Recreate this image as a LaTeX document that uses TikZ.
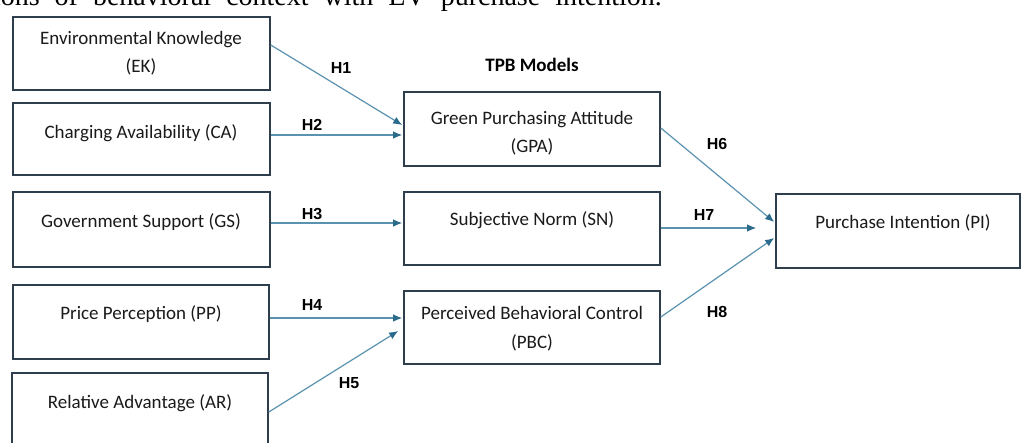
\documentclass[tikz,border=0pt]{standalone}
\usepackage{fontspec}
\setmainfont{Carlito}
\newfontfamily\hfam{Liberation Sans}
\newfontfamily\capfam{Liberation Serif}
\usetikzlibrary{arrows.meta,calc}
\definecolor{boxcol}{HTML}{2F3E4C}
\definecolor{textcol}{HTML}{1A1A1A}
\definecolor{arrline}{HTML}{5A92B0}
\definecolor{arrtip}{HTML}{2A6B8C}
\tikzset{
  box/.style={draw=boxcol, line width=1.6pt, inner sep=0pt, minimum width=257pt, minimum height=73pt},
  txt/.style={font=\fontsize{19}{22}\selectfont, text=textcol, inner sep=0pt},
  hlab/.style={font=\hfam\bfseries\fontsize{16}{18}\selectfont, text=black, inner sep=0pt},
  ttl/.style={font=\bfseries\fontsize{19}{22}\selectfont, text=black, inner sep=0pt},
  arr/.style={draw=arrline, line width=1.2pt, -{Latex[length=9pt,width=7.5pt,color=arrtip]}},
}
\begin{document}
\begin{tikzpicture}[x=1pt,y=-1pt]
\useasboundingbox (0,0) rectangle (1022,442);
\clip (0,0) rectangle (1022,442);
\fill[white] (0,0) rectangle (1022,442);
% caption fragment (cut off at the top edge)
\node[anchor=base east, font=\capfam\fontsize{28}{30}\selectfont, inner sep=0pt] (cap) at (662,5.5) {\spaceskip=15pt ions of behavioral context with EV purchase intention.};
% left boxes
\node[box] (ek) at (141.5,53.5) {};
\node[box, minimum height=72pt] (ca) at (141.5,139) {};
\node[box, minimum height=75pt] (gs) at (141.5,229.5) {};
\node[box, minimum width=256pt, minimum height=74pt] (pp) at (141,322) {};
\node[box, minimum width=256pt, minimum height=74pt] (ar) at (140,410) {};
% middle boxes
\node[box, minimum width=256pt, minimum height=74pt] (gpa) at (532,129) {};
\node[box, minimum width=256pt] (sn) at (532,228.5) {};
\node[box, minimum width=256pt] (pbc) at (532,327.5) {};
% right box
\node[box, minimum width=244pt, minimum height=74pt] (pi) at (898,231) {};
% texts
\node[txt] (ekt1) at (141,40) {Environmental Knowledge};
\node[txt] (ekt2) at (141,67) {(EK)};
\node[txt] (cat) at (141,133) {Charging Availability (CA)};
\node[txt] (gst) at (141,222) {Government Support (GS)};
\node[txt] (ppt) at (141,314) {Price Perception (PP)};
\node[txt] (art) at (140,403) {Relative Advantage (AR)};
\node[txt] (gpat1) at (532,120) {Green Purchasing Attitude};
\node[txt] (gpat2) at (532,147) {(GPA)};
\node[txt] (snt) at (532,220) {Subjective Norm (SN)};
\node[txt] (pbct1) at (532,313) {Perceived Behavioral Control};
\node[txt] (pbct2) at (532,343) {(PBC)};
\node[txt] (pit) at (903,223) {Purchase Intention (PI)};
\node[ttl] (tpb) at (532,65) {TPB Models};
% arrows
\draw[arr] ([yshift=8.5pt]ek.east) -- ([xshift=-1pt,yshift=4pt]gpa.west);
\draw[arr] ([yshift=4pt]ca.east) -- ([xshift=-1pt,yshift=-6pt]gpa.west);
\draw[arr] ([yshift=6.5pt]gs.east) -- ([xshift=-1pt,yshift=5.5pt]sn.west);
\draw[arr] ([yshift=4pt]pp.east) -- ([xshift=-1pt,yshift=9.5pt]pbc.west);
\draw[arr] ([yshift=-2pt]ar.east) -- ([xshift=-5pt,yshift=-3.5pt]pbc.west);
\draw[arr] ([yshift=1pt]gpa.east) -- ([xshift=-1pt,yshift=9pt]pi.west);
\draw[arr] ([yshift=0.5pt]sn.east) -- ([xshift=-19pt,yshift=3pt]pi.west);
\draw[arr] ([yshift=10.5pt]pbc.east) -- ([xshift=-1pt,yshift=-7pt]pi.west);
% hypothesis labels
\node[hlab] (h1) at (341,68) {H1};
\node[hlab] (h2) at (312,125) {H2};
\node[hlab] (h3) at (312,214) {H3};
\node[hlab] (h4) at (312,305) {H4};
\node[hlab] (h5) at (349,383) {H5};
\node[hlab] (h6) at (717,144) {H6};
\node[hlab] (h7) at (704,215) {H7};
\node[hlab] (h8) at (717,312) {H8};
\end{tikzpicture}
\end{document}
